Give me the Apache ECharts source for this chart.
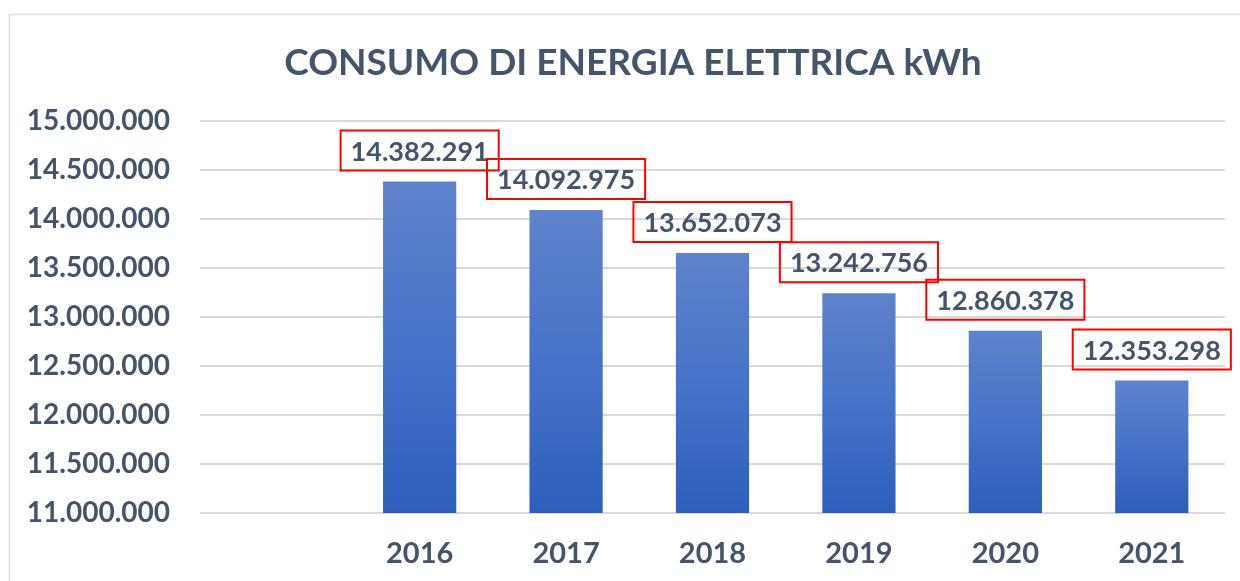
<!DOCTYPE html>
<html><head><meta charset="utf-8">
<script src="https://cdn.jsdelivr.net/npm/echarts@6/dist/echarts.min.js"></script>
<style>html,body{margin:0;padding:0;background:#fff}#c{width:1240px;height:581px}</style>
</head><body><div id="c"></div>
<script>
var categories = ['', '2016', '2017', '2018', '2019', '2020', '2021'];
var values = [null, 14382291, 14092975, 13652073, 13242756, 12860378, 12353298];
var yTicks = [11000000, 11500000, 12000000, 12500000, 13000000, 13500000, 14000000, 14500000, 15000000];

function fmt(v) { return String(Math.round(v)).replace(/\B(?=(\d{3})+(?!\d))/g, '.'); }

var textColor = '#44546a';
var font = 'Lato, "Open Sans", sans-serif';
var chart = echarts.init(document.getElementById('c'), null, {renderer: 'canvas'});
chart.setOption({
  animation: false,
  backgroundColor: '#fff',
  graphic: [{
    type: 'rect', left: 7, top: 12, shape: {width: 1240, height: 600},
    style: {fill: 'none', stroke: '#d9dde3', lineWidth: 1.5}, silent: true
  }],
  title: {
    text: 'CONSUMO DI ENERGIA ELETTRICA kWh', left: 628, textAlign: 'center', top: 40,
    textStyle: {fontFamily: font, fontWeight: 'bold', fontSize: 37, color: textColor}
  },
  grid: {left: 200, right: 15, top: 121, bottom: 68, containLabel: false},
  xAxis: {
    type: 'category', data: categories,
    axisLine: {show: false}, axisTick: {show: false},
    axisLabel: {fontFamily: font, fontWeight: 'bold', fontSize: 29, color: textColor, margin: 26}
  },
  yAxis: {
    type: 'value', min: yTicks[0], max: yTicks[yTicks.length - 1], interval: 500000,
    axisLine: {show: false}, axisTick: {show: false},
    splitLine: {lineStyle: {color: '#d9d9d9', width: 2}},
    axisLabel: {fontFamily: font, fontWeight: 'bold', fontSize: 28, color: textColor, margin: 30, formatter: fmt}
  },
  series: [{
    type: 'bar', data: values, barWidth: '50%',
    itemStyle: {color: new echarts.graphic.LinearGradient(0, 0, 0, 1, [
      {offset: 0, color: '#5f82cb'}, {offset: 0.5, color: '#4673c9'}, {offset: 1, color: '#2e5ebc'}])},
    label: {
      show: true, position: 'top', distance: 11,
      formatter: function (p) { return fmt(p.value); },
      fontFamily: font, fontWeight: 'bold', fontSize: 27, color: textColor,
      borderColor: '#ff0000', borderWidth: 2, padding: [8, 10, 5, 10]
    }
  }]
});
</script></body></html>
